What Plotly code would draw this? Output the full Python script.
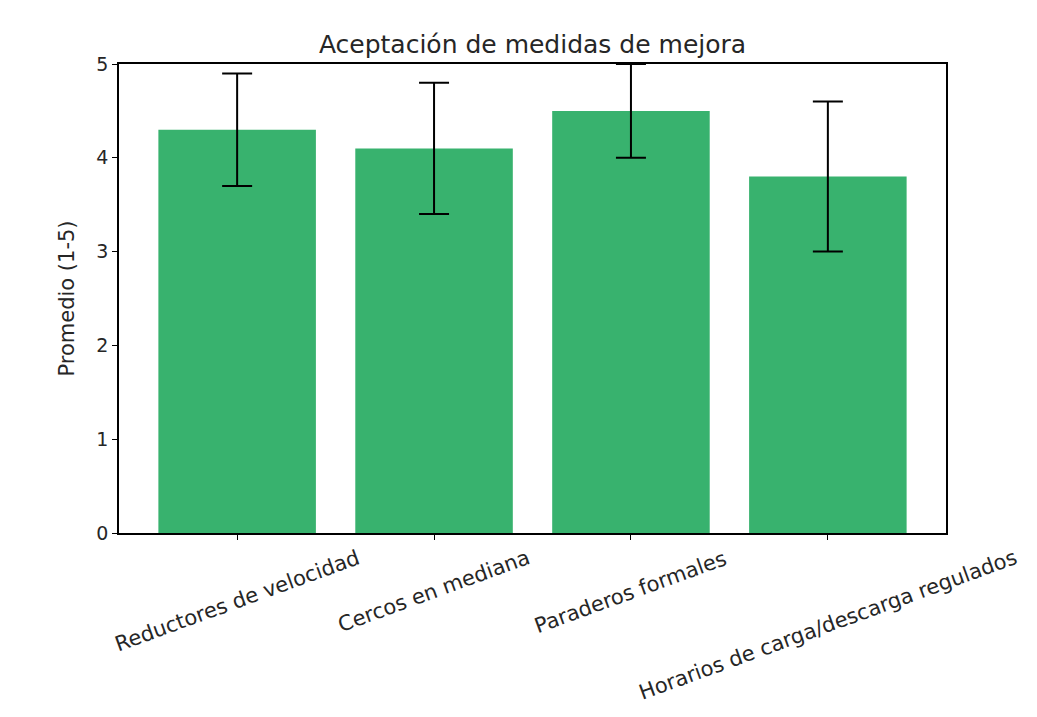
import plotly.graph_objects as go

categories = ["Reductores de velocidad", "Cercos en mediana", "Paraderos formales",
              "Horarios de carga/descarga regulados"]
means = [4.3, 4.1, 4.5, 3.8]
errors = [0.6, 0.7, 0.5, 0.8]
y_ticks = [0, 1, 2, 3, 4, 5]

FONT = "DejaVu Sans"
TXT = "#262626"

fig = go.Figure()
fig.add_trace(go.Bar(
    x=list(range(len(categories))), y=means,
    width=0.8,
    marker=dict(color="#38b26e", line=dict(width=0)),
    error_y=dict(type="data", array=errors, visible=True, color="black",
                 thickness=2, width=15),
))

for i, c in enumerate(categories):
    fig.add_annotation(x=i, y=0, xref="x", yref="paper", text=c, showarrow=False,
                       textangle=-20, xanchor="center", yanchor="top", yshift=-10,
                       font=dict(family=FONT, size=21, color=TXT))

fig.update_layout(
    width=1037, height=717,
    margin=dict(l=111, r=99, t=56, b=192),
    paper_bgcolor="white", plot_bgcolor="white",
    title=dict(text="Aceptación de medidas de mejora", x=0.5, xref="paper",
               y=1, yref="paper", yanchor="bottom", pad=dict(b=11),
               font=dict(family=FONT, size=25, color=TXT)),
    font=dict(family=FONT, size=19, color=TXT),
    showlegend=False,
    xaxis=dict(range=[-0.6, 3.6], tickvals=list(range(len(categories))),
               showticklabels=False, ticks="outside", ticklen=5, tickcolor="black",
               tickwidth=1.2,
               showline=True, linecolor="black", linewidth=1.5, mirror=True,
               showgrid=False, zeroline=False),
    yaxis=dict(range=[0, 5], tickvals=y_ticks, ticks="outside", ticklen=5,
               tickwidth=1.2,
               tickcolor="black", showline=True, linecolor="black", linewidth=1.5,
               mirror=True, showgrid=False, zeroline=False,
               tickfont=dict(family=FONT, size=19, color=TXT),
               title=dict(text="Promedio (1-5)", standoff=16,
                          font=dict(family=FONT, size=21, color=TXT))),
)

fig.write_html("out.html")
